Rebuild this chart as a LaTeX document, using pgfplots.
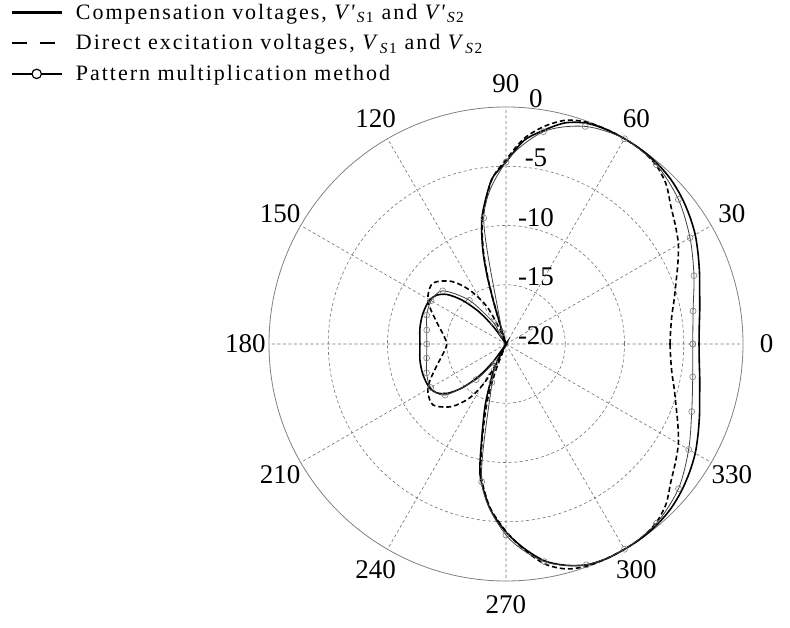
\documentclass[border=0pt]{standalone}
\usepackage{fontspec}
\setmainfont{Liberation Serif}
\newfontfamily\legfont[LetterSpace=9]{Liberation Serif}
\usepackage{pgfplots}
\usepackage{pgfplotstable}
\usepgfplotslibrary{polar}
\pgfplotsset{compat=1.18}

% Radiation patterns: angle (deg) and normalised level (dB), clipped at -20 dB
\pgfplotstableread{
a db
0 -3.71
5 -3.63
10 -3.40
15 -3.08
20 -2.62
25 -2.11
30 -1.56
35 -1.10
40 -0.68
45 -0.34
50 -0.13
55 -0.02
60 0.00
65 -0.02
70 -0.17
75 -0.68
80 -1.69
85 -2.78
90 -4.64
95 -6.08
100 -8.69
102 -10.1
104 -12.0
105.5 -14.1
106.5 -16.6
107.5 -19.6
108 -20
124 -20
126 -18.2
130 -16.46
135 -14.77
140 -13.5
145 -12.83
150 -12.57
155 -12.53
160 -12.53
165 -12.57
170 -12.62
175 -12.70
180 -12.74
185 -12.70
190 -12.62
195 -12.57
200 -12.53
205 -12.53
210 -12.57
215 -12.83
220 -13.5
225 -14.77
230 -16.46
234 -18.2
236 -20
241 -20
244 -17.9
248 -16.4
251.5 -14.4
255.8 -11.6
258.6 -8.86
262 -7.2
265 -5.82
270 -4.13
275 -2.70
280 -1.43
285 -0.67
290 -0.17
295 0.00
300 0.00
305 -0.02
310 -0.13
315 -0.34
320 -0.68
325 -1.10
330 -1.56
335 -2.11
340 -2.62
345 -3.08
350 -3.40
355 -3.63
360 -3.71
}\compensation

\pgfplotstableread{
a db
0 -6.16
5 -6.05
10 -5.78
15 -5.30
20 -4.73
25 -4.00
30 -3.20
35 -2.55
40 -1.85
45 -0.90
50 -0.30
55 -0.05
60 0.00
65 0.00
70 -0.08
75 -0.45
80 -1.35
85 -2.60
90 -4.45
95 -6.10
100 -8.90
102 -10.3
104 -12.3
105.5 -14.5
106.5 -17.0
107.5 -19.8
108 -20
111 -20
113 -18.7
117 -16.46
124 -14.51
131 -13.0
140 -11.98
148 -12.24
154 -12.83
163 -13.92
172 -14.68
180 -15.0
188 -14.68
197 -13.92
206 -12.83
212 -12.24
220 -11.98
229 -13.0
236 -14.51
241 -16.3
244 -18.3
246 -20
247 -20
249 -17.5
252 -14.8
256 -11.7
259 -8.9
262 -7.3
265 -5.9
270 -4.2
275 -2.6
280 -1.15
285 -0.35
290 -0.05
295 0.00
300 0.00
305 -0.05
310 -0.30
315 -0.90
320 -1.85
325 -2.55
330 -3.20
335 -4.00
340 -4.73
345 -5.30
350 -5.78
355 -6.05
360 -6.16
}\direct

\pgfplotstableread{
a db
0 -4.24
10 -3.97
20 -3.12
30 -2.07
40 -1.01
50 -0.25
60 0.00
70 -0.46
80 -1.81
90 -4.64
100 -9.2
110 -19.0
120 -17.9
130 -15.19
140 -13.02
150 -12.70
160 -12.88
170 -13.21
180 -13.31
190 -13.20
200 -12.87
210 -12.66
220 -13.29
230 -16.08
240 -18.14
250 -16.54
260 -8.19
270 -3.88
280 -1.35
290 -0.17
300 0.00
310 -0.25
320 -1.00
330 -2.20
340 -3.32
350 -4.00
360 -4.24
}\patternmult

\begin{document}
\begin{tikzpicture}
\useasboundingbox (0pt,0pt) rectangle (790pt,628pt);
\begin{polaraxis}[
  at={(506pt,284pt)}, anchor=center,
  width=474pt, height=474pt, scale only axis,
  ymin=0, ymax=20,
  xtick={0,30,...,330}, ytick={5,10,15},
  xticklabels={}, yticklabels={},
  major tick length=0pt,
  grid=major,
  major grid style={black!55, line width=0.6pt, dash pattern=on 3pt off 2.5pt},
  x axis line style={black!50, line width=0.8pt},
  y axis line style={draw=none},
  clip=false,
  legend cell align=left,
  legend style={
    at={(axis description cs:-0.546,1.222)}, anchor=north west,
    draw=none, fill=none, inner sep=0pt, column sep=11pt, row sep=10pt,
    font=\legfont\fontsize{22}{24}\selectfont,
  },
]
\addplot[black, line width=1.6pt, smooth,
  legend image code/.code={
    \draw[black, solid, line width=2.4pt] (0pt,0pt) -- (50pt,0pt);}]
  table[x=a, y expr=\thisrow{db}+20] {\compensation};
\addlegendentry{Compensation voltages, \textit{V'}\textsubscript{\textit{S}1} and \textit{V'}\textsubscript{\textit{S}2}}
\addplot[black, line width=1.6pt, smooth, dash pattern=on 5pt off 3pt,
  legend image code/.code={
    \draw[black, solid, line width=2.6pt] (0pt,0pt) -- (15pt,0pt);
    \draw[black, solid, line width=2.6pt] (28pt,0pt) -- (43pt,0pt);
    \path (50pt,0pt);}]
  table[x=a, y expr=\thisrow{db}+20] {\direct};
\addlegendentry{Direct excitation voltages, \textit{V}\textsubscript{\textit{S}1} and \textit{V}\textsubscript{\textit{S}2}}
\addplot[black!75, line width=0.8pt, smooth, mark=o, mark size=3pt,
  mark options={black!50, line width=0.6pt, solid},
  legend image code/.code={
    \draw[black, solid, line width=2.4pt] (0pt,0pt) -- (50pt,0pt);
    \draw[black, solid, line width=1.2pt, fill=white] (25pt,0pt) circle (4.7pt);}]
  table[x=a, y expr=\thisrow{db}+20] {\patternmult};
\addlegendentry{Pattern multiplication method}
% angle labels around the rim
\pgfplotsinvokeforeach{0,30,...,330}{
  \node[font=\fontsize{27}{27}\selectfont, inner sep=0pt] at (axis cs:#1,22) {#1};
}
% level labels along the 90 degree spoke
\node[font=\fontsize{27}{27}\selectfont, inner sep=0pt, xshift=30pt, yshift=8pt] at (axis cs:90,0) {-20};
\node[font=\fontsize{27}{27}\selectfont, inner sep=0pt, xshift=30pt, yshift=8pt] at (axis cs:90,5) {-15};
\node[font=\fontsize{27}{27}\selectfont, inner sep=0pt, xshift=30pt, yshift=8pt] at (axis cs:90,10) {-10};
\node[font=\fontsize{27}{27}\selectfont, inner sep=0pt, xshift=30pt, yshift=8pt] at (axis cs:90,15) {-5};
\node[font=\fontsize{27}{27}\selectfont, inner sep=0pt, xshift=30pt, yshift=8pt] at (axis cs:90,20) {0};
\end{polaraxis}
\end{tikzpicture}
\end{document}
